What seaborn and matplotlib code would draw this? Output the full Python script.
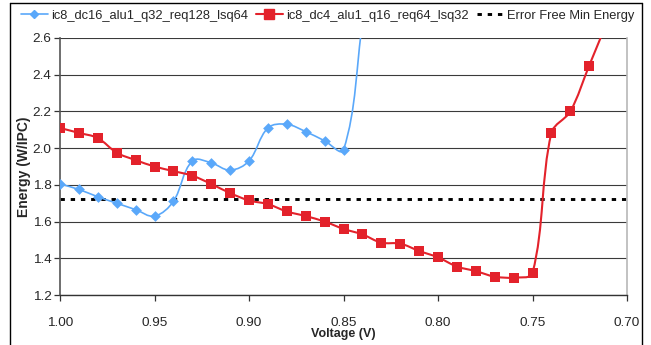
import numpy as np
import pandas as pd
import matplotlib
matplotlib.use("Agg")
import matplotlib.pyplot as plt
from matplotlib.path import Path
from matplotlib.patches import PathPatch
from matplotlib.lines import Line2D
import seaborn as sns

# Data
voltage_blue = [1.00, 0.99, 0.98, 0.97, 0.96, 0.95, 0.94, 0.93, 0.92, 0.91,
                0.90, 0.89, 0.88, 0.87, 0.86, 0.85, 0.84]
energy_blue = [1.805, 1.775, 1.735, 1.70, 1.665, 1.63, 1.71, 1.93, 1.92, 1.88,
               1.93, 2.11, 2.13, 2.09, 2.04, 1.99, 2.68]

voltage_red = [1.00, 0.99, 0.98, 0.97, 0.96, 0.95, 0.94, 0.93, 0.92, 0.91,
               0.90, 0.89, 0.88, 0.87, 0.86, 0.85, 0.84, 0.83, 0.82, 0.81,
               0.80, 0.79, 0.78, 0.77, 0.76, 0.75, 0.74, 0.73, 0.72, 0.71]
energy_red = [2.11, 2.083, 2.055, 1.975, 1.935, 1.90, 1.875, 1.85, 1.805, 1.755,
              1.715, 1.695, 1.655, 1.63, 1.60, 1.56, 1.53, 1.485, 1.48, 1.44,
              1.405, 1.355, 1.33, 1.30, 1.295, 1.32, 2.083, 2.20, 2.45, 2.70]

error_free_min = 1.725

series_names = ["ic8_dc16_alu1_q32_req128_lsq64",
                "ic8_dc4_alu1_q16_req64_lsq32",
                "Error Free Min Energy"]

x_ticks = [1.00, 0.95, 0.90, 0.85, 0.80, 0.75, 0.70]
y_ticks = [1.2, 1.4, 1.6, 1.8, 2.0, 2.2, 2.4, 2.6]

BLUE = "#5aa8fa"
RED = "#e3222b"

sns.set_style("white")
plt.rcParams["font.family"] = ["Liberation Sans", "DejaVu Sans"]
plt.rcParams["font.size"] = 9

fig = plt.figure(figsize=(6.51, 3.45), dpi=100)
ax = fig.add_axes([60 / 651, 1 - 295 / 345, (627 - 60) / 651, (295 - 38) / 345])
ax.set_xlim(1.00, 0.70)
ax.set_ylim(1.2, 2.6)


def smooth_patch(ax, xs, ys, color, lw):
    # Excel-like smoothed line: cubic Bezier through points, built in display space
    pts = ax.transData.transform(np.column_stack([xs, ys]))
    n = len(pts)
    tang = []
    for i in range(n):
        a = pts[max(i - 1, 0)]
        b = pts[min(i + 1, n - 1)]
        t = b - a
        tang.append(t / np.linalg.norm(t))
    verts = [pts[0]]
    codes = [Path.MOVETO]
    for i in range(n - 1):
        d = np.linalg.norm(pts[i + 1] - pts[i])
        c1 = pts[i] + tang[i] * d / 3
        c2 = pts[i + 1] - tang[i + 1] * d / 3
        verts += [c1, c2, pts[i + 1]]
        codes += [Path.CURVE4] * 3
    verts = ax.transData.inverted().transform(np.array(verts))
    patch = PathPatch(Path(verts, codes), facecolor="none", edgecolor=color,
                      lw=lw, zorder=3, transform=ax.transData)
    ax.add_patch(patch)


blue_df = pd.DataFrame({"voltage": voltage_blue, "energy": energy_blue})
red_df = pd.DataFrame({"voltage": voltage_red, "energy": energy_red})

ax.axhline(error_free_min, color="black", lw=2.1, linestyle=(0, (1.5, 2.0)),
           dash_capstyle="butt", zorder=2.5)

smooth_patch(ax, voltage_blue, energy_blue, BLUE, 1.2)
sns.scatterplot(data=blue_df, x="voltage", y="energy", marker="D", s=30,
                color=BLUE, linewidth=0, ax=ax, zorder=4, clip_on=True)
smooth_patch(ax, voltage_red, energy_red, RED, 1.5)
sns.scatterplot(data=red_df, x="voltage", y="energy", marker="s", s=52,
                color=RED, linewidth=0, ax=ax, zorder=5, clip_on=True)

ax.set_xlim(1.00, 0.70)
ax.set_ylim(1.2, 2.6)
ax.set_xticks(x_ticks)
ax.set_xticklabels([f"{v:.2f}" for v in x_ticks])
ax.set_yticks(y_ticks)
ax.set_yticklabels([f"{v:.1f}" for v in y_ticks])

ax.yaxis.grid(True, color="#3a3a3a", lw=0.8)
ax.set_axisbelow(True)
ax.tick_params(axis="x", direction="out", length=4, width=0.9, color="#333333",
               pad=12, labelsize=9.7, bottom=True)
ax.tick_params(axis="y", direction="out", length=4, width=0.9, color="#333333",
               pad=2, labelsize=9.7, left=True)

ax.spines["top"].set_visible(False)
ax.spines["left"].set_color("#555555")
ax.spines["left"].set_linewidth(1.2)
ax.spines["bottom"].set_color("#333333")
ax.spines["bottom"].set_linewidth(1.0)
ax.spines["right"].set_color("#b8b8b8")
ax.spines["right"].set_linewidth(1.2)

ax.set_xlabel("Voltage (V)", fontweight="bold", fontsize=9, labelpad=-1)
ax.set_ylabel("Energy (W/IPC)", fontweight="bold", fontsize=10, labelpad=1)

handles = [
    Line2D([], [], color=BLUE, lw=1.2, marker="D", markersize=4.5),
    Line2D([], [], color=RED, lw=1.5, marker="s", markersize=6.5),
    Line2D([], [], color="black", lw=2.1, linestyle=(0, (1.5, 2.0)),
           dash_capstyle="butt"),
]
fig.legend(handles, series_names, loc="center", bbox_to_anchor=(0.503, 1 - 16 / 345),
           ncol=3, frameon=False, fontsize=9.3, handlelength=2.1, handletextpad=0.25,
           columnspacing=0.6)

# outer chart border
for xs_, ys_ in [([10 / 651, 10 / 651], [0, 1 - 3 / 345]),
                 ([10 / 651, 642 / 651], [1 - 3 / 345, 1 - 3 / 345]),
                 ([642 / 651, 642 / 651], [1 - 3 / 345, 0])]:
    fig.add_artist(Line2D(xs_, ys_, color="black", lw=1.0, transform=fig.transFigure))

fig.savefig("out.png", dpi=100)
